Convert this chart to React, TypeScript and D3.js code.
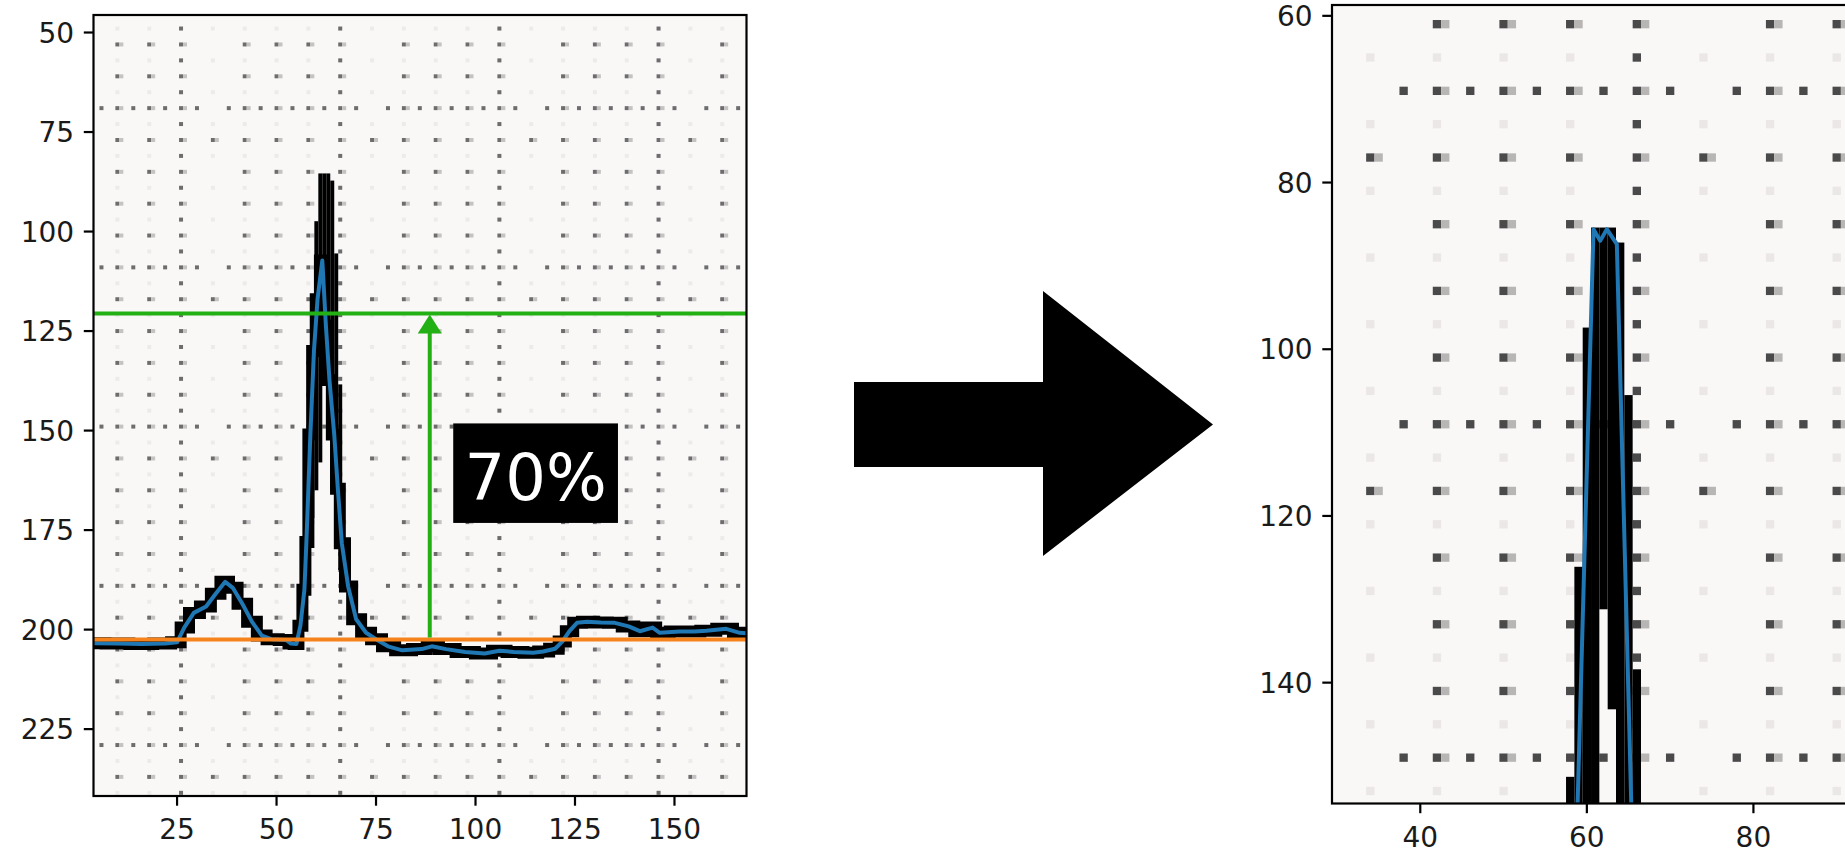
import React from "react";
import * as d3 from "d3";

const W = 1845;
const H = 852;

// smoothed trace on the left panel (image pixel coordinates, y grows downward)
const traceX = [4, 10, 16, 22, 25, 26.8, 29.2, 32.3, 34.7, 37.1, 39, 41.4, 43.8, 46.3, 48.7, 52.4, 53.6, 55, 56, 57, 57.5, 58.5, 59.4, 60.3, 61.5, 62.4, 63.3, 64.5, 65.4, 66.4, 68, 70, 72.5, 75, 78, 81.6, 86.5, 89, 92.6, 97.4, 102.3, 106, 109.6, 114.5, 117, 120, 121.8, 123.6, 125.5, 128, 131.5, 135, 138.5, 141.3, 144.5, 146.3, 151.3, 155, 158, 163, 166.4, 168];
const traceY = [203.4, 203.5, 203.6, 203.5, 203.2, 199.5, 195.8, 194.2, 191, 188, 189.5, 193.5, 198, 201.5, 202.4, 202.6, 203.5, 203.6, 199, 190, 178, 151, 130, 117, 107.3, 123.6, 137.3, 151, 164.6, 178.3, 189.2, 197.4, 200.8, 202.4, 204.2, 205.2, 204.9, 204.2, 204.9, 205.6, 206, 205.3, 205.6, 205.8, 205.5, 204.8, 203, 200.4, 198.3, 198, 198.2, 198.3, 199.2, 200.4, 199.5, 200.8, 200.5, 200.5, 200.3, 199.8, 200.8, 200.9];

// raw black pixel columns around the peak
const spikeCols = [58, 59, 60, 61, 62, 63, 64, 65, 66];
const spikeTops = [151.3, 126.1, 97.4, 85.4, 85.4, 85.4, 87.2, 105.5, 138.4];
const spikeBottoms = [178, 172, 165, 158, 131.2, 143.2, 165, 175, 185];

// trace on the zoomed panel
const zoomX = [58.6, 60.8, 61.6, 62.4, 63.6, 65.6];
const zoomY = [165, 85.6, 87.0, 85.6, 87.4, 165];

const baseline = 202.5;
const level = 120.6;
const arrowAt = 88.5;
const pctLabel = "70%";

const leftXTicks = [25, 50, 75, 100, 125, 150];
const leftYTicks = [50, 75, 100, 125, 150, 175, 200, 225];
const rightXTicks = [40, 60, 80];
const rightYTicks = [60, 80, 100, 120, 140];

const FONT = "DejaVu Sans, sans-serif";
const TICK = 9.7;
const PAD = 9.7;
const FS = 28;
const blue = "#1f77b4";
const orange = "#f5821a";
const green = "#22b014";

type Dot = { x: number; y: number; tone: number };
const toneFill = ["#4a4a4a", "#b8b5b5", "#ebe7e7"];

// graph-paper dots of the photographed background
function paperDots(x0: number, x1: number, y0: number, y1: number): Dot[] {
  const dots: Dot[] = [];
  const cols = d3.range(2, x1 + 2, 8).filter((c) => c >= x0 - 2);
  const rows = d3.range(5, y1 + 2, 8).filter((r) => r >= y0 - 2);
  for (const c of cols) {
    for (const r of rows) {
      const sparse = (c - 34) % 40 === 0;
      dots.push({ x: c, y: r + 4, tone: 2 });
      if (sparse && (r - 77) % 40 !== 0) continue;
      dots.push({ x: c, y: r, tone: 0 });
      dots.push({ x: c + 1, y: r, tone: 1 });
    }
  }
  for (const r of rows.filter((r) => (r - 69) % 40 === 0)) {
    for (const c of cols) dots.push({ x: c + 4, y: r, tone: 0 });
  }
  for (const c of cols.filter((c) => (c - 26) % 40 === 0)) {
    for (const r of rows) dots.push({ x: c, y: r + 4, tone: 0 });
  }
  return dots;
}

type Scale = d3.ScaleLinear<number, number>;

function Panel(props: {
  id: string;
  x: number;
  y: number;
  w: number;
  h: number;
  xDom: [number, number];
  yDom: [number, number];
  xTicks: number[];
  yTicks: number[];
  dotAlpha: number;
  draw: (sx: Scale, sy: Scale) => React.ReactNode;
}) {
  const { id, x, y, w, h, xDom, yDom, xTicks, yTicks } = props;
  const sx = d3.scaleLinear().domain(xDom).range([x, x + w]);
  const sy = d3.scaleLinear().domain(yDom).range([y, y + h]);
  const u = sx(1) - sx(0);
  const dots = paperDots(xDom[0], xDom[1], yDom[0], yDom[1]);
  return (
    <g>
      <defs>
        <clipPath id={id}>
          <rect x={x} y={y} width={w} height={h} />
        </clipPath>
      </defs>
      <g clipPath={`url(#${id})`}>
        <rect x={x} y={y} width={w} height={h} fill="#faf7f7" />
        <g opacity={props.dotAlpha}>
          {dots.map((d, i) => (
            <rect
              key={i}
              x={sx(d.x - 0.5)}
              y={sy(d.y - 0.5)}
              width={u}
              height={u}
              fill={toneFill[d.tone]}
            />
          ))}
        </g>
        {props.draw(sx, sy)}
      </g>
      <rect x={x} y={y} width={w} height={h} fill="none" stroke="#000" strokeWidth={2.2} />
      {xTicks.map((t) => (
        <g key={"x" + t}>
          <line x1={sx(t)} x2={sx(t)} y1={y + h} y2={y + h + TICK} stroke="#000" strokeWidth={2.2} />
          <text x={sx(t)} y={y + h + 43} textAnchor="middle" fontFamily={FONT} fontSize={FS} fill="#1a1a1a">
            {t}
          </text>
        </g>
      ))}
      {yTicks.map((t) => (
        <g key={"y" + t}>
          <line x1={x - TICK} x2={x} y1={sy(t)} y2={sy(t)} stroke="#000" strokeWidth={2.2} />
          <text x={x - TICK - PAD} y={sy(t) + 10} textAnchor="end" fontFamily={FONT} fontSize={FS} fill="#1a1a1a">
            {t}
          </text>
        </g>
      ))}
    </g>
  );
}

function spikeRects(sx: Scale, sy: Scale) {
  return spikeCols.map((c, i) => (
    <rect
      key={c}
      x={sx(c - 0.5)}
      y={sy(spikeTops[i])}
      width={sx(c + 0.5) - sx(c - 0.5)}
      height={sy(spikeBottoms[i]) - sy(spikeTops[i])}
      fill="#000"
    />
  ));
}

export default function App() {
  const trace = traceX.map((v, i) => [v, traceY[i]] as [number, number]);
  const zoom = zoomX.map((v, i) => [v, zoomY[i]] as [number, number]);

  const drawLeft = (sx: Scale, sy: Scale) => {
    const line = d3.line<[number, number]>().x((d) => sx(d[0])).y((d) => sy(d[1]));
    const step = d3
      .line<[number, number]>()
      .x((d) => sx(d[0]))
      .y((d) => sy(d[1]))
      .curve(d3.curveStep);
    const [x0, x1] = sx.domain();
    const ax = sx(arrowAt);
    const tip = sy(level) + 1;
    const headH = 19;
    const boxX0 = sx(94.4);
    const boxX1 = sx(135.8);
    const boxY0 = sy(148.2);
    const boxY1 = sy(173.2);
    return (
      <g>
        <path d={step(trace) || ""} fill="none" stroke="#000" strokeWidth={12} />
        {spikeRects(sx, sy)}
        <path d={line(trace) || ""} fill="none" stroke={blue} strokeWidth={4} strokeLinejoin="round" />
        <line x1={sx(x0)} x2={sx(x1)} y1={sy(baseline)} y2={sy(baseline)} stroke={orange} strokeWidth={4} />
        <line x1={sx(x0)} x2={sx(x1)} y1={sy(level)} y2={sy(level)} stroke={green} strokeWidth={4} />
        <line x1={ax} x2={ax} y1={sy(baseline) - 2} y2={tip + headH - 1} stroke={green} strokeWidth={4} />
        <path d={`M${ax},${tip}L${ax - 12},${tip + headH}L${ax + 12},${tip + headH}Z`} fill={green} />
        <rect x={boxX0} y={boxY0} width={boxX1 - boxX0} height={boxY1 - boxY0} fill="#000" />
        <text
          x={(boxX0 + boxX1) / 2}
          y={boxY0 + (boxY1 - boxY0) * 0.77}
          textAnchor="middle"
          fontFamily={FONT}
          fontSize={64}
          fill="#fff"
        >
          {pctLabel}
        </text>
      </g>
    );
  };

  const drawRight = (sx: Scale, sy: Scale) => {
    const line = d3.line<[number, number]>().x((d) => sx(d[0])).y((d) => sy(d[1]));
    return (
      <g>
        {spikeRects(sx, sy)}
        <path d={line(zoom) || ""} fill="none" stroke={blue} strokeWidth={4} strokeLinejoin="round" />
      </g>
    );
  };

  // block arrow between the panels
  const ar = { x0: 854, x1: 1043, x2: 1213, sy0: 382, sy1: 467, hy0: 291, hy1: 556 };
  const mid = (ar.sy0 + ar.sy1) / 2;

  return (
    <svg width={W} height={H} style={{ position: "absolute", left: 0, top: 0, background: "#fff" }}>
      <Panel
        id="clipL"
        x={93.5}
        y={15}
        w={653}
        h={781}
        xDom={[4, 168.1]}
        yDom={[45.6, 241.8]}
        xTicks={leftXTicks}
        yTicks={leftYTicks}
        dotAlpha={0.8}
        draw={drawLeft}
      />
      <path
        d={`M${ar.x0},${ar.sy0}H${ar.x1}V${ar.hy0}L${ar.x2},${mid}L${ar.x1},${ar.hy1}V${ar.sy1}H${ar.x0}Z`}
        fill="#000"
      />
      <Panel
        id="clipR"
        x={1332}
        y={5}
        w={588}
        h={798.5}
        xDom={[29.4, 100]}
        yDom={[58.7, 154.5]}
        xTicks={rightXTicks}
        yTicks={rightYTicks}
        dotAlpha={1}
        draw={drawRight}
      />
    </svg>
  );
}
